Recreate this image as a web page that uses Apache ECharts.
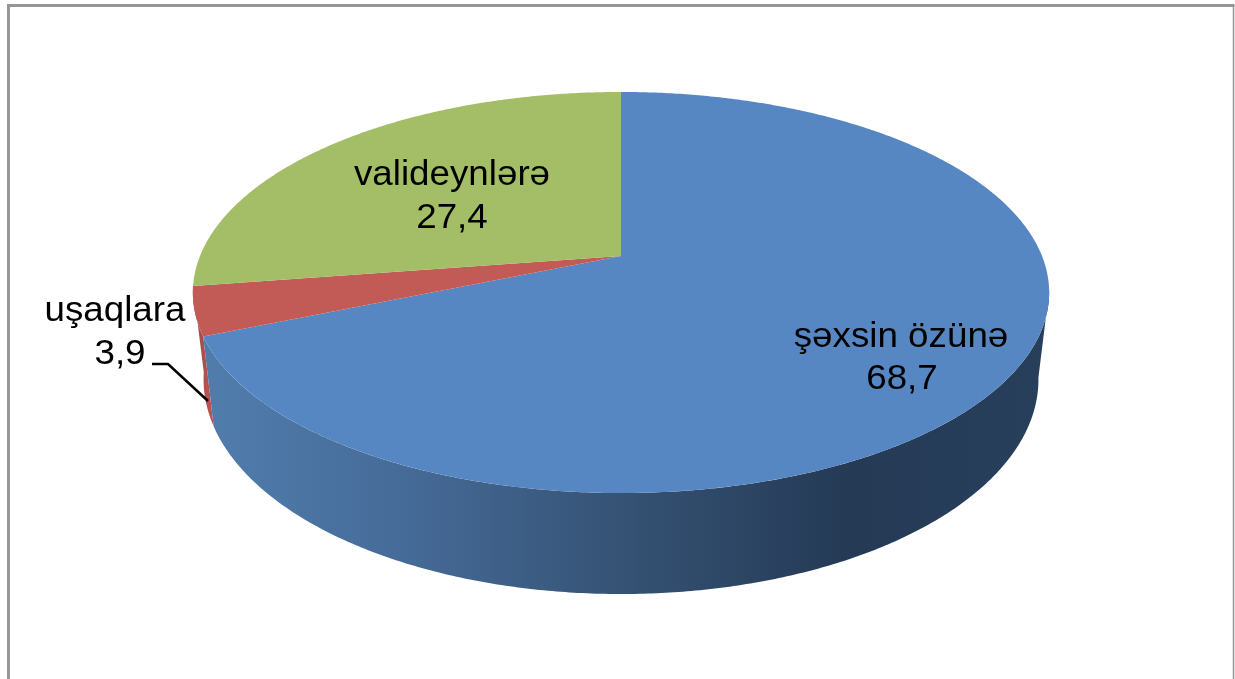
<!DOCTYPE html>
<html>
<head>
<meta charset="utf-8">
<style>html,body{margin:0;padding:0;background:#fff}#c{width:1235px;height:679px}</style>
<script src="https://cdn.jsdelivr.net/npm/echarts@6/dist/echarts.min.js"></script>
</head>
<body>
<div id="c"></div>
<script>
// Data
const categories = ['şəxsin özünə', 'uşaqlara', 'valideynlərə'];
const shares = [68.7, 3.9, 27.4];
const valueLabels = ['68,7', '3,9', '27,4'];

// Styles and layout (not data)
const topColors = ['#5687c2', '#c25a56', '#a3be66'];
const namePos = [[901, 337.5], [115, 311.5], [452, 175]];
const valuePos = [[902, 379], [120, 354], [452, 218.5]];
const leader = [[152, 364], [168, 364], [208, 401]];
const FONT = '"Liberation Sans", Arial, sans-serif';

// Perspective projection of the pie disc
const CX = 621, CY = 256, P = 0.182, K = 193.9, M = 421;
function topPt(deg) {
  const t = deg * Math.PI / 180, u = Math.sin(t), v = -Math.cos(t), d = 1 - P * v;
  return [CX + M * u / d, CY + K * v / d];
}
function botPt(deg) {
  const p = topPt(deg);
  return [CX + (p[0] - CX) * 0.975, p[1] + 90 + (p[1] - 336) * 0.07];
}
function arc(fn, a, b) {
  const pts = [], n = Math.max(2, Math.ceil(Math.abs(b - a) * 2));
  for (let i = 0; i <= n; i++) pts.push(fn(a + (b - a) * i / n));
  return pts;
}
const total = shares.reduce((s, v) => s + v, 0);
const ranges = [];
shares.reduce((acc, v) => {
  const next = acc + v / total * 360;
  ranges.push([acc, next]);
  return next;
}, 0);

const sideBlue = new echarts.graphic.LinearGradient(213, 0, 1040, 0, [
  { offset: 0, color: '#507cac' },
  { offset: 0.22, color: '#466c99' },
  { offset: 0.52, color: '#345071' },
  { offset: 0.77, color: '#243a55' },
  { offset: 1, color: '#283f5c' }
], true);
const sideRed = new echarts.graphic.LinearGradient(0, 300, 0, 426, [
  { offset: 0, color: '#a04b48' },
  { offset: 1, color: '#bd534f' }
], true);

function renderSide(params, api) {
  const i = params.dataIndex;
  let a = ranges[i][0], b = ranges[i][1], fill;
  if (i === 0) { a = Math.max(a, 100); fill = sideBlue; }
  else if (i === 1) { fill = sideRed; }
  else { return { type: 'group', children: [] }; }
  const pts = arc(topPt, a, b).concat(arc(botPt, b, a));
  return { type: 'polygon', shape: { points: pts }, style: { fill: fill }, z2: i === 0 ? 2 : 1 };
}
function renderTop(params, api) {
  const i = params.dataIndex;
  const pts = [[CX, CY]].concat(arc(topPt, ranges[i][0], ranges[i][1]));
  return { type: 'polygon', shape: { points: pts }, style: { fill: topColors[i] } };
}
function renderText(params, api) {
  const i = params.dataIndex;
  const base = { fill: '#000', font: '35px ' + FONT, align: 'center', verticalAlign: 'middle' };
  return {
    type: 'group',
    children: [
      { type: 'text', x: namePos[i][0], y: namePos[i][1], scaleX: 1.05, style: Object.assign({ text: categories[i] }, base) },
      { type: 'text', x: valuePos[i][0], y: valuePos[i][1], scaleX: 1.05, style: Object.assign({ text: valueLabels[i] }, base) }
    ]
  };
}
const seriesData = shares.map((v, i) => ({ name: categories[i], value: v }));

const chart = echarts.init(document.getElementById('c'), null, { renderer: 'canvas' });
chart.setOption({
  animation: false,
  backgroundColor: '#fff',
  tooltip: { show: false },
  graphic: [
    { type: 'polyline', z: 50, shape: { points: [[8.5, 679], [8.5, 5.5], [1234.5, 5.5]] },
      style: { fill: 'none', stroke: '#969696', lineWidth: 3 } },
    { type: 'polyline', z: 50, shape: { points: [[1233.5, 5], [1233.5, 679]] },
      style: { fill: 'none', stroke: '#969696', lineWidth: 1.5 } },
    { type: 'polyline', z: 60, shape: { points: leader },
      style: { fill: 'none', stroke: '#000', lineWidth: 2.5 } }
  ],
  series: [
    { type: 'custom', coordinateSystem: 'none', z: 2, renderItem: renderSide, data: seriesData },
    { type: 'custom', coordinateSystem: 'none', z: 3, renderItem: renderTop, data: seriesData },
    { type: 'custom', coordinateSystem: 'none', z: 4, renderItem: renderText, data: seriesData }
  ]
});
</script>
</body>
</html>
